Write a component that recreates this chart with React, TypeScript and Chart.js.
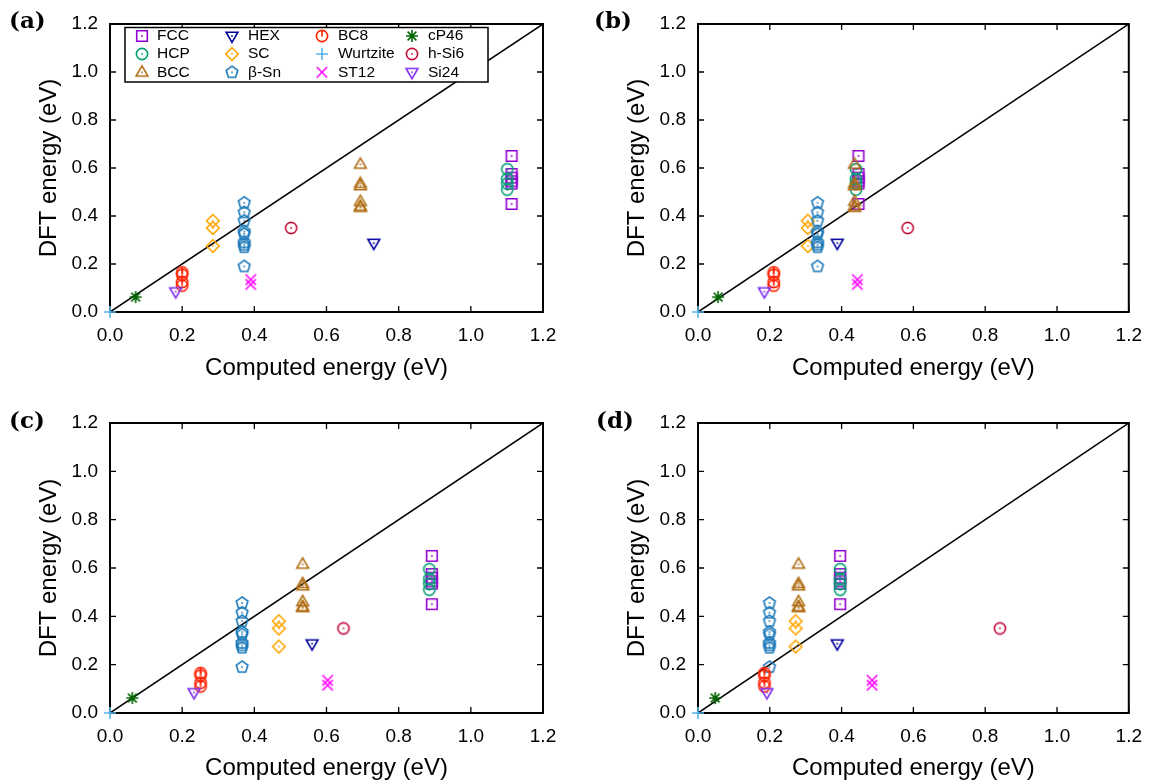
import React, { useEffect, useRef } from "react";
import { Chart, registerables } from "chart.js";

Chart.register(...registerables);

// ---------------- data ----------------
const structureNames = ["FCC", "HCP", "BCC", "HEX", "SC", "β-Sn", "BC8", "Wurtzite", "ST12", "cP46", "h-Si6", "Si24"];

// DFT energies (eV) of each structure (y values, shared by all four panels)
const dftFCC = [0.65, 0.575, 0.56, 0.545, 0.535, 0.45];
const dftHCP = [0.595, 0.555, 0.535, 0.51];
const dftBCC = [0.615, 0.535, 0.525, 0.46, 0.44, 0.435];
const dftHEX = [0.287];
const dftSC = [0.38, 0.35, 0.275];
const dftBetaSn = [0.455, 0.415, 0.38, 0.335, 0.325, 0.29, 0.28, 0.27, 0.19];
const dftBC8 = [0.165, 0.155, 0.125, 0.11];
const dftWurtzite = [0.0];
const dftST12 = [0.135, 0.115];
const dftCP46 = [0.062];
const dftHSi6 = [0.35];
const dftSi24 = [0.085];
const dftValues = [dftFCC, dftHCP, dftBCC, dftHEX, dftSC, dftBetaSn, dftBC8, dftWurtzite, dftST12, dftCP46, dftHSi6, dftSi24];

// Computed energies (eV) for each structure in each panel (same order as structureNames)
const computedA = [1.113, 1.101, 0.694, 0.731, 0.285, 0.372, 0.2, 0.0, 0.39, 0.071, 0.502, 0.182];
const computedB = [0.447, 0.44, 0.436, 0.388, 0.306, 0.333, 0.211, 0.0, 0.444, 0.056, 0.584, 0.185];
const computedC = [0.892, 0.885, 0.534, 0.56, 0.468, 0.366, 0.251, 0.0, 0.603, 0.062, 0.647, 0.233];
const computedD = [0.396, 0.396, 0.28, 0.388, 0.272, 0.199, 0.185, 0.0, 0.485, 0.048, 0.841, 0.192];

const axisTicks = [0, 0.2, 0.4, 0.6, 0.8, 1.0, 1.2];
const diagonalEnds = [0, 1.2];
const panelLetters = ["(a)", "(b)", "(c)", "(d)"];
const xTitle = "Computed energy (eV)";
const yTitle = "DFT energy (eV)";

// legend columns (indices into structureNames)
const legendColumns = [[0, 1, 2], [3, 4, 5], [6, 7, 8], [9, 10, 11]];

// ---------------- styles ----------------
const structureColors = ["#9400d3", "#009e73", "#b06e14", "#00009c", "#ffa500", "#1a78b8", "#ff2200", "#56b4e9", "#ff00ff", "#006400", "#c4103e", "#7d2cf0"];
const structureShapes = ["square", "circle", "triUp", "triDown", "diamond", "pentagon", "bc8", "plus", "cross", "star", "circle", "triDown"];

const SANS = '"Liberation Sans", Arial, Helvetica, sans-serif';

function makeMarker(kind: string, color: string): HTMLCanvasElement {
  const s = 20;
  const c = document.createElement("canvas");
  c.width = s;
  c.height = s;
  const g = c.getContext("2d")!;
  g.translate(s / 2, s / 2);
  g.strokeStyle = color;
  g.fillStyle = color;
  g.lineWidth = 1.6;
  g.beginPath();
  let dot = true;
  switch (kind) {
    case "square":
      g.rect(-5.3, -5.3, 10.6, 10.6);
      break;
    case "circle":
      g.arc(0, 0, 5.6, 0, Math.PI * 2);
      break;
    case "triUp":
      g.moveTo(0, -6.3);
      g.lineTo(5.9, 3.8);
      g.lineTo(-5.9, 3.8);
      g.closePath();
      break;
    case "triDown":
      g.moveTo(0, 6.3);
      g.lineTo(5.9, -3.8);
      g.lineTo(-5.9, -3.8);
      g.closePath();
      break;
    case "diamond":
      g.moveTo(0, -6.3);
      g.lineTo(6.3, 0);
      g.lineTo(0, 6.3);
      g.lineTo(-6.3, 0);
      g.closePath();
      break;
    case "pentagon":
      for (let i = 0; i < 5; i++) {
        const a = -Math.PI / 2 + (i * 2 * Math.PI) / 5;
        const px = 6.1 * Math.cos(a);
        const py = 6.1 * Math.sin(a);
        if (i === 0) g.moveTo(px, py);
        else g.lineTo(px, py);
      }
      g.closePath();
      break;
    case "bc8":
      g.arc(0, 0, 5.6, 0, Math.PI * 2);
      g.moveTo(0, -5.6);
      g.lineTo(0, 0.5);
      dot = false;
      break;
    case "plus":
      g.moveTo(-6, 0);
      g.lineTo(6, 0);
      g.moveTo(0, -6);
      g.lineTo(0, 6);
      dot = false;
      break;
    case "cross":
      g.moveTo(-5.2, -5.2);
      g.lineTo(5.2, 5.2);
      g.moveTo(5.2, -5.2);
      g.lineTo(-5.2, 5.2);
      dot = false;
      break;
    case "star":
      g.moveTo(-6, 0);
      g.lineTo(6, 0);
      g.moveTo(0, -6);
      g.lineTo(0, 6);
      g.moveTo(-4.4, -4.4);
      g.lineTo(4.4, 4.4);
      g.moveTo(4.4, -4.4);
      g.lineTo(-4.4, 4.4);
      dot = false;
      break;
  }
  g.stroke();
  if (dot) g.fillRect(-0.8, -0.8, 1.6, 1.6);
  return c;
}

// frame with inward ticks on all four sides (gnuplot style)
const framePlugin = {
  id: "frameTicks",
  beforeDatasetsDraw(chart: any) {
    const { ctx, chartArea: a, scales } = chart;
    const xs = scales.x;
    const ys = scales.y;
    ctx.save();
    ctx.strokeStyle = "#000";
    ctx.lineWidth = 1.3;
    ctx.beginPath();
    for (const v of axisTicks) {
      const px = xs.getPixelForValue(v);
      ctx.moveTo(px, a.bottom);
      ctx.lineTo(px, a.bottom - 6);
      ctx.moveTo(px, a.top);
      ctx.lineTo(px, a.top + 6);
      const py = ys.getPixelForValue(v);
      ctx.moveTo(a.left, py);
      ctx.lineTo(a.left + 6, py);
      ctx.moveTo(a.right, py);
      ctx.lineTo(a.right - 6, py);
    }
    ctx.stroke();
    ctx.lineWidth = 2;
    ctx.strokeRect(a.left, a.top, a.right - a.left, a.bottom - a.top);
    ctx.restore();
  },
};

const legendPlugin = {
  id: "gridLegend",
  afterDatasetsDraw(chart: any, _args: any, opts: any) {
    if (!opts || !opts.show) return;
    const markers: HTMLCanvasElement[] = opts.markers;
    const ctx = chart.ctx;
    const a = chart.chartArea;
    const boxL = a.left + 15;
    const boxT = a.top + 3.5;
    const boxW = 363;
    const boxH = 54.5;
    const colMarkerX = [32, 122, 212, 302];
    const colTextX = [47, 138, 228, 318];
    const rowY = [12, 30, 48.3];
    ctx.save();
    ctx.fillStyle = "#fff";
    ctx.fillRect(boxL, boxT, boxW, boxH);
    ctx.strokeStyle = "#000";
    ctx.lineWidth = 1.5;
    ctx.strokeRect(boxL, boxT, boxW, boxH);
    ctx.font = "15.5px " + SANS;
    ctx.textBaseline = "middle";
    ctx.textAlign = "left";
    ctx.fillStyle = "#000";
    legendColumns.forEach((col, ci) => {
      col.forEach((idx, ri) => {
        const mx = a.left + colMarkerX[ci];
        const y = a.top + rowY[ri];
        const img = markers[idx];
        ctx.drawImage(img, mx - img.width / 2, y - img.height / 2);
        ctx.fillText(structureNames[idx], a.left + colTextX[ci], y);
      });
    });
    ctx.restore();
  },
};

type PanelLayout = {
  left: number;
  top: number;
  padTop: number;
  padRight: number;
  yWidth: number;
  xHeight: number;
  yTitlePad: number;
  xTitlePad: number;
};

const CW = 577;
const CH = 392;

function Panel({ computed, layout, showLegend }: { computed: number[]; layout: PanelLayout; showLegend: boolean }) {
  const ref = useRef<HTMLCanvasElement>(null);
  useEffect(() => {
    if (!ref.current) return;
    const markers = structureShapes.map((s, i) => makeMarker(s, structureColors[i]));
    const datasets: any[] = structureNames.map((name, i) => ({
      label: name,
      data: dftValues[i].map((y) => ({ x: computed[i], y })),
      pointStyle: markers[i],
      pointRadius: 6,
      pointHoverRadius: 6,
      borderColor: structureColors[i],
      backgroundColor: structureColors[i],
      showLine: false,
      clip: false,
      order: -i,
    }));
    datasets.push({
      label: "y = x",
      data: diagonalEnds.map((v) => ({ x: v, y: v })),
      borderColor: "#000",
      borderWidth: 1.5,
      pointRadius: 0,
      showLine: true,
      order: 100,
    });
    const tickFont = { size: 19, family: SANS };
    const titleFont = { size: 24, family: SANS };
    const chart = new Chart(ref.current, {
      type: "scatter",
      data: { datasets },
      plugins: [framePlugin, legendPlugin],
      options: {
        responsive: false,
        animation: false,
        events: [],
        layout: { padding: { top: layout.padTop, right: layout.padRight, left: 0, bottom: 0 } },
        plugins: {
          legend: { display: false },
          tooltip: { enabled: false },
          gridLegend: { show: showLegend, markers },
        } as any,
        scales: {
          x: {
            type: "linear",
            min: 0,
            max: 1.2,
            grid: { display: false, drawTicks: false },
            border: { display: false },
            afterBuildTicks: (s: any) => {
              s.ticks = axisTicks.map((v) => ({ value: v }));
            },
            afterFit: (s: any) => {
              s.height = layout.xHeight;
            },
            ticks: {
              padding: 12,
              color: "#000",
              font: tickFont,
              maxRotation: 0,
              autoSkip: false,
              callback: (v: any) => Number(v).toFixed(1),
            },
            title: {
              display: true,
              text: xTitle,
              color: "#000",
              font: titleFont,
              padding: { top: 0, bottom: layout.xTitlePad },
            },
          } as any,
          y: {
            type: "linear",
            min: 0,
            max: 1.2,
            grid: { display: false, drawTicks: false },
            border: { display: false },
            afterBuildTicks: (s: any) => {
              s.ticks = axisTicks.map((v) => ({ value: v }));
            },
            afterFit: (s: any) => {
              s.width = layout.yWidth;
            },
            ticks: {
              padding: 12,
              color: "#000",
              font: tickFont,
              autoSkip: false,
              callback: (v: any) => Number(v).toFixed(1),
            },
            title: {
              display: true,
              text: yTitle,
              color: "#000",
              font: titleFont,
              padding: { top: layout.yTitlePad, bottom: 0 },
            },
          } as any,
        },
      },
    });
    return () => chart.destroy();
  }, []);
  return (
    <canvas
      ref={ref}
      width={CW}
      height={CH}
      style={{ position: "absolute", left: layout.left, top: layout.top, width: CW, height: CH }}
    />
  );
}

const layouts: PanelLayout[] = [
  { left: 0, top: 0, padTop: 24, padRight: 34, yWidth: 110, xHeight: 80, yTitlePad: 35, xTitlePad: 9 },
  { left: 577, top: 0, padTop: 24, padRight: 24, yWidth: 121, xHeight: 80, yTitlePad: 46, xTitlePad: 9 },
  { left: 0, top: 392, padTop: 31, padRight: 34, yWidth: 110, xHeight: 71, yTitlePad: 35, xTitlePad: 1 },
  { left: 577, top: 392, padTop: 31, padRight: 24, yWidth: 121, xHeight: 71, yTitlePad: 46, xTitlePad: 1 },
];
const computedSets = [computedA, computedB, computedC, computedD];
const letterPos = [
  { left: 9, top: 7 },
  { left: 594, top: 7 },
  { left: 9, top: 407 },
  { left: 596, top: 407 },
];

export default function App() {
  return (
    <div style={{ position: "fixed", left: 0, top: 0, width: 1154, height: 784, background: "#fff", overflow: "hidden" }}>
      {layouts.map((l, i) => (
        <Panel key={i} computed={computedSets[i]} layout={l} showLegend={i === 0} />
      ))}
      {panelLetters.map((t, i) => (
        <div
          key={t}
          style={{
            position: "absolute",
            left: letterPos[i].left,
            top: letterPos[i].top,
            fontFamily: '"DejaVu Serif", "Liberation Serif", serif',
            fontWeight: "bold",
            fontSize: 23,
            lineHeight: "26px",
            color: "#000",
          }}
        >
          {t}
        </div>
      ))}
    </div>
  );
}
